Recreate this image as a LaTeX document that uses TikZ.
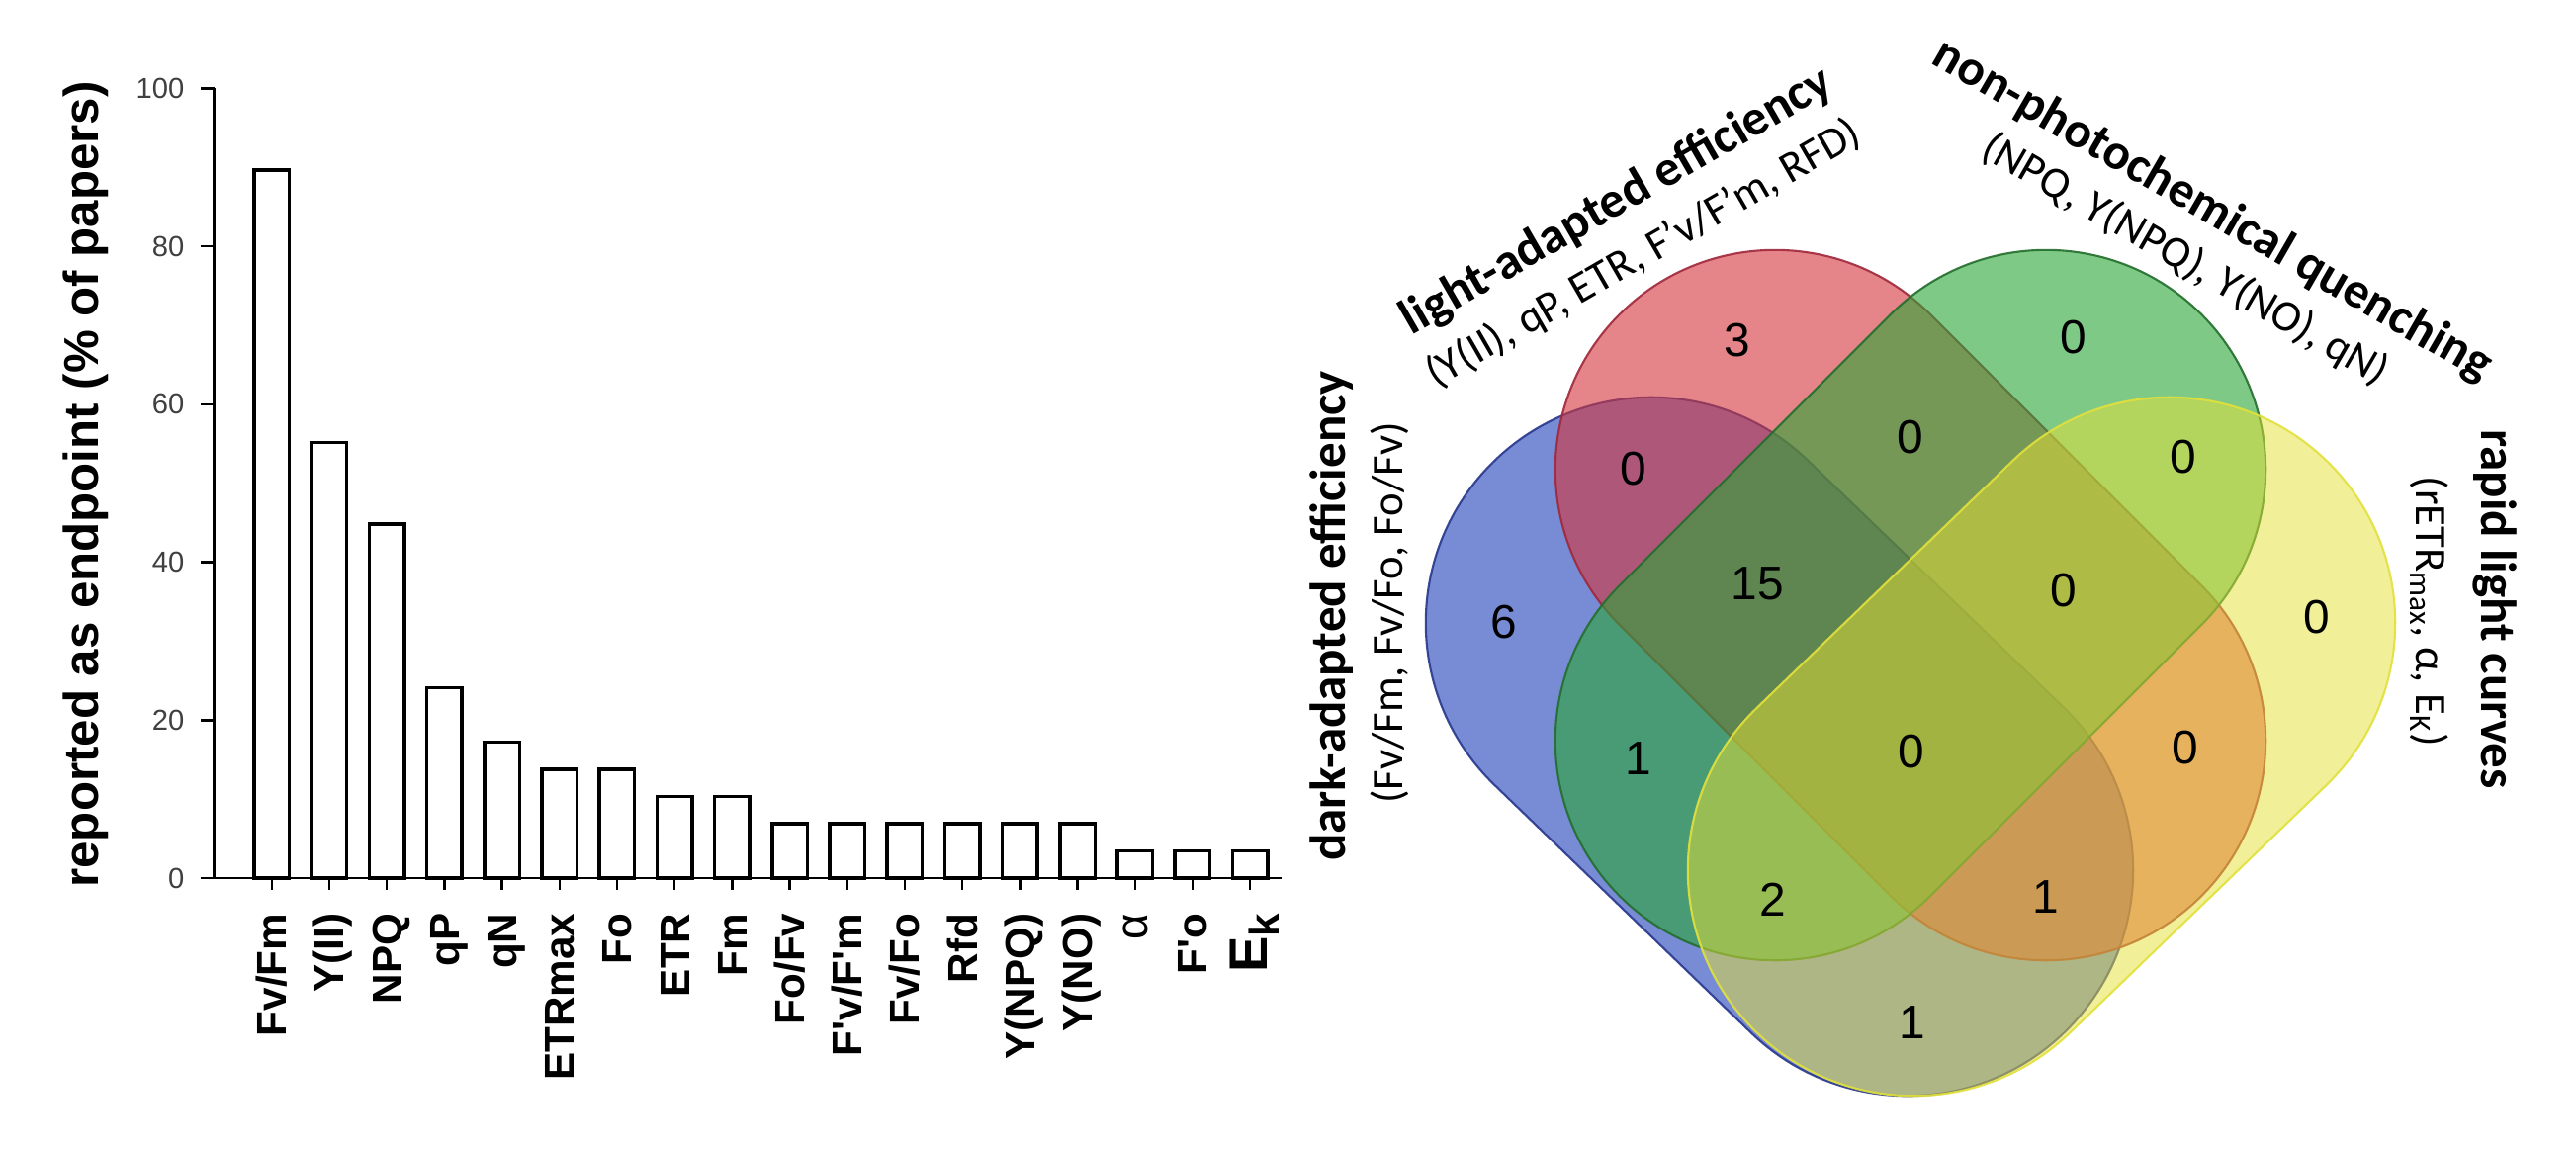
\documentclass[tikz,border=0pt]{standalone}
\usepackage{fontspec}
\setmainfont{Liberation Sans}
\newfontfamily\calib{Carlito}
\usetikzlibrary{shapes.misc}
\definecolor{vblue}{RGB}{30,64,187}
\definecolor{vred}{RGB}{212,53,59}
\definecolor{vgreen}{RGB}{43,166,55}
\definecolor{vyellow}{RGB}{231,224,53}
\definecolor{vblueD}{RGB}{40,55,140}
\definecolor{vredD}{RGB}{160,40,60}
\definecolor{vgreenD}{RGB}{35,110,45}
\definecolor{vyellowD}{RGB}{225,225,60}
\tikzset{
  barbox/.style={draw=black, line width=1pt, fill=white},
  axisln/.style={draw=black, line width=0.7pt},
  ticklab/.style={anchor=east, inner sep=0pt, text=black!75, font=\fontsize{8.3}{9}\selectfont},
  xlab/.style={rotate=90, anchor=base east, inner sep=0pt, font=\bfseries\fontsize{12}{12}\selectfont},
  vset/.style={shape=rounded rectangle, inner sep=0pt, line width=0.6pt, fill opacity=0.6, draw opacity=0.9},
  vnum/.style={inner sep=0pt, font=\fontsize{13.6}{14}\selectfont},
  vtitle/.style={inner sep=0pt, font=\calib\bfseries\fontsize{14.5}{15}\selectfont},
  vsub/.style={inner sep=0pt, font=\calib\fontsize{12.7}{13}\selectfont},
}
\begin{document}
\begin{tikzpicture}[x=0.01cm, y=-0.01cm]
\fill[white] (0,0) rectangle (2605,1162);
\useasboundingbox (0,0) rectangle (2605,1162);

% ---------------- bar chart ----------------
\foreach \i/\c in {0/26,1/16,2/13,3/7,4/5,5/4,6/4,7/3,8/3,9/2,10/2,11/2,12/2,13/2,14/2,15/1,16/1,17/1}{
  \draw[barbox] ({257+58.2*\i},888) rectangle ({292.5+58.2*\i},{888-27.534*\c});
  \draw[axisln] ({274.75+58.2*\i},888) -- ({274.75+58.2*\i},900);
}
\draw[axisln] (216.5,89.4) -- (216.5,888);
\draw[axisln] (203,888) -- (1295.5,888);
\foreach \v/\y in {0/888,20/728.3,40/568.6,60/408.9,80/249.1,100/89.4}{
  \draw[axisln] (203,\y) -- (216.5,\y);
  \node[ticklab] at (187,\y) {\v};
}
\node[rotate=90, anchor=base, inner sep=0pt, font=\bfseries\fontsize{14}{14}\selectfont] (ylab) at (100,490) {reported as endpoint (\% of papers)};

\node[xlab] (x1) at (289.75,923) {Fv/Fm};
\node[xlab] (x2) at (347.95,923) {Y(II)};
\node[xlab] (x3) at (406.15,923) {NPQ};
\node[xlab] (x4) at (464.35,923) {qP};
\node[xlab] (x5) at (522.55,923) {qN};
\node[xlab] (x6) at (580.75,923) {ETRmax};
\node[xlab] (x7) at (638.95,923) {Fo};
\node[xlab] (x8) at (697.15,923) {ETR};
\node[xlab] (x9) at (755.35,923) {Fm};
\node[xlab] (x10) at (813.55,923) {Fo/Fv};
\node[xlab] (x11) at (871.75,923) {F\textquotesingle v/F\textquotesingle m};
\node[xlab] (x12) at (929.95,923) {Fv/Fo};
\node[xlab] (x13) at (988.15,923) {Rfd};
\node[xlab] (x14) at (1046.35,923) {Y(NPQ)};
\node[xlab] (x15) at (1104.55,923) {Y(NO)};
\node[xlab, font=\fontsize{13}{13}\selectfont] (x16) at (1160,923) {α};
\node[xlab] (x17) at (1220.95,923) {F\textquotesingle o};
\node[xlab] (x18) at (1281,923) {{\fontsize{15.5}{15}\selectfont E}\raisebox{-3.5pt}{k}};

% ---------------- Venn diagram ----------------
\node[vset, fill=vblue, draw=vblueD, minimum width=8.16cm, minimum height=4.56cm, rotate=-44] (blue) at (1799.5,755) {};
\node[vset, fill=vred, draw=vredD, minimum width=8.315cm, minimum height=4.44cm, rotate=-45] (red) at (1932,612) {};
\node[vset, fill=vgreen, draw=vgreenD, minimum width=8.315cm, minimum height=4.44cm, rotate=45] (green) at (1932,612) {};
\node[vset, fill=vyellow, draw=vyellowD, fill opacity=0.5, minimum width=8.16cm, minimum height=4.56cm, rotate=44] (yellow) at (2064.5,755) {};

\node[vnum] (n6) at (1521,629) {6};
\node[vnum] (n3) at (1757,344) {3};
\node[vnum] (ng) at (2097,341) {0};
\node[vnum] (ny) at (2343,624) {0};
\node[vnum] (nbr) at (1652,474) {0};
\node[vnum] (nrg) at (1932,442) {0};
\node[vnum] (ngy) at (2208,462) {0};
\node[vnum] (nbrg) at (1777,590) {15};
\node[vnum] (nrgy) at (2087,597) {0};
\node[vnum] (nbg) at (1657,767) {1};
\node[vnum] (nall) at (1933,760) {0};
\node[vnum] (nry) at (2210,756) {0};
\node[vnum] (nbgy) at (1793,910) {2};
\node[vnum] (nbry) at (2069,907) {1};
\node[vnum] (nby) at (1934,1034) {1};

\node[vtitle, rotate=90] (tdark) at (1347,623) {dark-adapted efficiency};
\node[vsub, rotate=90] (sdark) at (1405,620) {(Fv/Fm, Fv/Fo, Fo/Fv)};
\node[vtitle, rotate=30] (tlight) at (1635,204) {light-adapted efficiency};
\node[vsub, rotate=30] (slight) at (1662,257) {(Y(II), qP, ETR, F’v/F’m, RFD)};
\node[vtitle, rotate=-30] (tnpq) at (2237,213) {non-photochemical quenching};
\node[vsub, rotate=-30] (snpq) at (2210,263) {(NPQ, Y(NPQ), Y(NO), qN)};
\node[vtitle, rotate=-90] (trlc) at (2523,616) {rapid light curves};
\node[vsub, rotate=-90] (srlc) at (2457,618) {(rETR\textsubscript{max}, α, E\textsubscript{K})};
\end{tikzpicture}
\end{document}
